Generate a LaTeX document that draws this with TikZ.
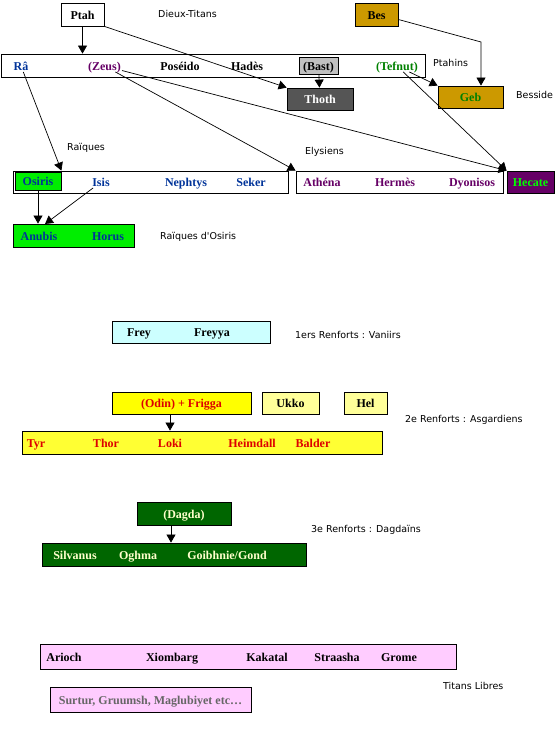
\documentclass[tikz,border=0pt]{standalone}
\usepackage{fontspec}
\setmainfont{Liberation Serif}
\newfontfamily\notefont{DejaVu Sans}
\usetikzlibrary{arrows.meta}
\definecolor{raiblue}{HTML}{003399}
\definecolor{elypurple}{HTML}{660066}
\definecolor{tefgreen}{HTML}{008000}
\definecolor{ptahgold}{HTML}{CC9900}
\definecolor{bastgrey}{HTML}{C0C0C0}
\definecolor{thothgrey}{HTML}{555555}
\definecolor{osirisgreen}{HTML}{00EE00}
\definecolor{hecgreen}{HTML}{00FF00}
\definecolor{vancyan}{HTML}{CCFFFF}
\definecolor{odinyellow}{HTML}{FFFF00}
\definecolor{asgyellow}{HTML}{FFFF33}
\definecolor{paleyellow}{HTML}{FFFF99}
\definecolor{asgred}{HTML}{DD0000}
\definecolor{dagdagreen}{HTML}{006600}
\definecolor{dagdacream}{HTML}{FFFFCC}
\definecolor{freepink}{HTML}{FFCCFF}
\definecolor{surturgrey}{HTML}{666666}

\begin{document}
\begin{tikzpicture}[x=1pt, y=-1pt,
    box/.style={draw, line width=0.8pt, inner sep=0pt, text height=9.5pt, text depth=0pt, font=\fontsize{12}{14}\selectfont\bfseries},
    god/.style={inner sep=1pt, text height=9.5pt, text depth=0pt, font=\fontsize{12}{14}\selectfont\bfseries},
    arr/.style={-{Triangle[length=8pt, width=9pt]}, line width=0.7pt},
    lbl/.style={anchor=west, inner sep=0pt, font=\notefont\fontsize{9.5}{11}\selectfont},
]
\useasboundingbox (0,0) rectangle (559,730);

% Dieux-Titans
\node[box, minimum width=43pt, minimum height=23pt] (ptah) at (82.5,14.5) {Ptah};
\node[box, fill=ptahgold, minimum width=43pt, minimum height=23pt] (bes) at (376.5,14.5) {Bes};
\node[box, minimum width=424pt, minimum height=23pt] (titans) at (213,65.5) {};
\node[god, text=raiblue] (ra) at (21,66) {Râ};
\node[god, text=elypurple] (zeus) at (104.5,66) {(Zeus)};
\node[god] (poseido) at (180,66) {Poséido};
\node[god] (hades) at (247,66) {Hadès};
\node[box, fill=bastgrey, minimum width=39pt, minimum height=17pt] (bast) at (318.5,65.5) {(Bast)};
\node[god, text=tefgreen] (tefnut) at (397,66) {(Tefnut)};
\node[lbl] (lbtitans) at (158,14) {Dieux-Titans};
\node[lbl] (lbptahins) at (433,63) {Ptahins};

% Ptahins et Besside
\node[box, fill=thothgrey, text=white, minimum width=66pt, minimum height=22pt] (thoth) at (320,99) {Thoth};
\node[box, fill=ptahgold, text=tefgreen, minimum width=65pt, minimum height=22pt] (geb) at (470.5,97) {Geb};
\node[lbl] (lbbesside) at (516,95) {Besside};

% Raiques et Elysiens
\node[box, minimum width=275pt, minimum height=22pt] (raiques) at (150.5,182) {};
\node[box, fill=osirisgreen, text=raiblue, minimum width=46pt, minimum height=18pt] (osiris) at (38,181) {Osiris};
\node[god, text=raiblue] (isis) at (101,182) {Isis};
\node[god, text=raiblue] (nephtys) at (186,182) {Nephtys};
\node[god, text=raiblue] (seker) at (251,182) {Seker};
\node[box, minimum width=207pt, minimum height=22pt] (elysiens) at (399.5,182) {};
\node[god, text=elypurple] (athena) at (322,182) {Athéna};
\node[god, text=elypurple] (hermes) at (395,182) {Hermès};
\node[god, text=elypurple] (dyonisos) at (472,182) {Dyonisos};
\node[box, fill=elypurple, text=hecgreen, minimum width=47pt, minimum height=22pt] (hecate) at (530.5,182) {Hecate};
\node[lbl] (lbraiques) at (67,148) {Raïques};
\node[lbl] (lbelysiens) at (305,152) {Elysiens};

% Raiques d'Osiris
\node[box, fill=osirisgreen, minimum width=121pt, minimum height=23pt] (duo) at (73.5,235.5) {};
\node[god, text=raiblue] (anubis) at (39,236) {Anubis};
\node[god, text=raiblue] (horus) at (108,236) {Horus};
\node[lbl] (lbduo) at (160,237) {Raïques d'Osiris};
\coordinate (duoin) at (45,224);

% Vaniirs
\node[box, fill=vancyan, minimum width=158pt, minimum height=22pt] (vaniirs) at (191,332) {};
\node[god] (frey) at (139,332) {Frey};
\node[god] (freyya) at (212,332) {Freyya};
\node[lbl] (lbvaniirs) at (295,335) {1ers Renforts : Vaniirs};

% Asgardiens
\node[box, fill=odinyellow, text=asgred, minimum width=139pt, minimum height=22pt] (odin) at (181.5,403) {(Odin) + Frigga};
\node[box, fill=paleyellow, minimum width=57pt, minimum height=22pt] (ukko) at (290.5,403) {Ukko};
\node[box, fill=paleyellow, minimum width=43pt, minimum height=22pt] (hel) at (365.5,403) {Hel};
\node[box, fill=asgyellow, minimum width=360pt, minimum height=23pt] (asgard) at (202,442.5) {};
\node[god, text=asgred] (tyr) at (36,443) {Tyr};
\node[god, text=asgred] (thor) at (106,443) {Thor};
\node[god, text=asgred] (loki) at (170,443) {Loki};
\node[god, text=asgred] (heimdall) at (252,443) {Heimdall};
\node[god, text=asgred] (balder) at (313,443) {Balder};
\node[lbl] (lbasgard) at (405,420) {2e Renforts : Asgardiens};

% Dagdains
\node[box, fill=dagdagreen, text=dagdacream, minimum width=94pt, minimum height=23pt] (dagda) at (184,513.5) {(Dagda)};
\node[box, fill=dagdagreen, minimum width=264pt, minimum height=23pt] (dagdains) at (174,554.5) {};
\node[god, text=dagdacream] (silvanus) at (75,555) {Silvanus};
\node[god, text=dagdacream] (oghma) at (138,555) {Oghma};
\node[god, text=dagdacream] (goibhnie) at (227,555) {Goibhnie/Gond};
\node[lbl] (lbdagda) at (311,530) {3e Renforts : Dagdaïns};

% Titans Libres
\node[box, fill=freepink, minimum width=416pt, minimum height=25pt] (libres) at (248,656.5) {};
\node[god] (arioch) at (64,657) {Arioch};
\node[god] (xiombarg) at (172,657) {Xiombarg};
\node[god] (kakatal) at (267,657) {Kakatal};
\node[god] (straasha) at (337,657) {Straasha};
\node[god] (grome) at (399,657) {Grome};
\node[box, fill=freepink, text=surturgrey, minimum width=201pt, minimum height=25pt] (surtur) at (150.5,699.5) {Surtur, Gruumsh, Maglubiyet etc\ldots};
\node[lbl] (lblibres) at (443,686) {Titans Libres};

% Arrows
\coordinate (besbend) at (481,42);
\draw[arr] (ptah.south) -- (ptah.south |- titans.north);
\draw[arr] (ptah.south east) -- (thoth.north west);
\draw[arr] (bast) -- (thoth);
\draw[arr] ([yshift=-5pt]bes.east) -- (besbend) -- (besbend |- geb.north);
\draw[arr] (tefnut) -- (geb.north west);
\draw[arr] (tefnut) -- (hecate.north west);
\draw[arr] (zeus) -- (hecate.north west);
\draw[arr] (zeus) -- (elysiens.north west);
\draw[arr] (ra) -- (osiris.north east |- raiques.north);
\draw[arr] (osiris.south) -- (osiris.south |- duo.north);
\draw[arr] (isis) -- (duoin);
\draw[arr] (loki |- odin.south) -- (loki |- asgard.north);
\draw[arr] ([xshift=-13pt]dagda.south) -- ([xshift=-13pt]dagda.south |- dagdains.north);

\end{tikzpicture}
\end{document}
